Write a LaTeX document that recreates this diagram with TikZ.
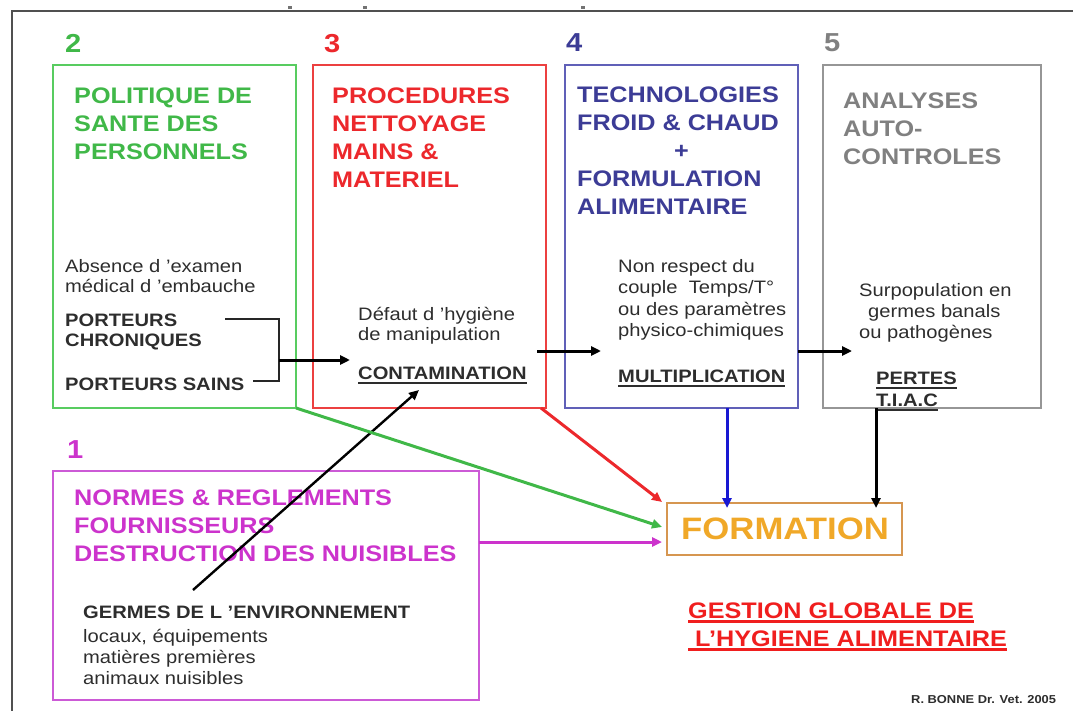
\documentclass[tikz,border=0pt]{standalone}
\usepackage{fontspec}
\setmainfont{Liberation Sans}[FakeStretch=1.12]
\usetikzlibrary{arrows.meta}

% palette
\definecolor{framegray}{RGB}{80,80,80}
\definecolor{grntxt}{RGB}{64,184,72}
\definecolor{grnline}{RGB}{88,204,96}
\definecolor{redtxt}{RGB}{236,40,44}
\definecolor{redline}{RGB}{236,64,64}
\definecolor{blutxt}{RGB}{60,60,150}
\definecolor{bluline}{RGB}{96,96,184}
\definecolor{bluarrow}{RGB}{24,24,210}
\definecolor{grytxt}{RGB}{128,128,128}
\definecolor{gryline}{RGB}{150,150,150}
\definecolor{magtxt}{RGB}{204,51,204}
\definecolor{magline}{RGB}{204,90,214}
\definecolor{orgtxt}{RGB}{240,168,40}
\definecolor{orgline}{RGB}{214,150,80}
\definecolor{inkgray}{RGB}{45,45,45}
\definecolor{gesred}{RGB}{240,30,30}

% underline with adjustable thickness and drop
\newsavebox\ulbox
\newcommand{\ulined}[3]{\sbox\ulbox{#3}\rlap{\rule[-#2]{\wd\ulbox}{#1}}\usebox\ulbox}

\newcommand{\titlefont}{\bfseries\fontsize{22.5}{28}\selectfont}
\newcommand{\numfont}{\bfseries\fontsize{26}{30}\selectfont}
\newcommand{\smallfont}{\fontsize{18}{20}\selectfont}
\newcommand{\smallbold}{\bfseries\fontsize{18}{20}\selectfont}

\tikzset{
  frame/.style={draw=framegray, line width=2pt},
  box/.style={draw=#1, line width=2.3pt, inner sep=0pt, outer sep=0pt, anchor=north west},
  ttl/.style={anchor=north west, inner sep=0pt, align=left, font=\titlefont, text=#1},
  num/.style={anchor=north west, inner sep=0pt, font=\numfont, text=#1},
  small/.style={anchor=north west, inner sep=0pt, align=left, font=\smallfont, text=inkgray},
  smallb/.style={anchor=north west, inner sep=0pt, align=left, font=\smallbold, text=inkgray},
  bracket/.style={draw=black!85, line width=1.5pt},
  arr/.style={draw=#1, line width=3pt, -{Triangle[length=10pt,width=9pt]}}
}

\begin{document}
\begin{tikzpicture}[x=1pt,y=-1pt]
\useasboundingbox (0,0) rectangle (1073,711);

% page frame and small marks on its top edge
\draw[frame] (12,711) -- (12,11) -- (1073,11);
\fill[framegray!80] (288,6) rectangle (292,9);
\fill[framegray!80] (363,6) rectangle (367,9);
\fill[framegray!80] (581,6) rectangle (585,9);

% five boxes
\node[box=grnline, minimum width=243pt, minimum height=343pt] (polbox) at (53,65) {};
\node[box=redline, minimum width=233pt, minimum height=343pt] (procbox) at (313,65) {};
\node[box=bluline, minimum width=233pt, minimum height=343pt] (techbox) at (565,65) {};
\node[box=gryline, minimum width=218pt, minimum height=343pt] (anabox) at (823,65) {};
\node[box=magline, minimum width=426pt, minimum height=229pt] (normbox) at (53,471) {};
\node[box=orgline, minimum width=235pt, minimum height=52pt] (formbox) at (667,503) {};

% numbers
\node[num=grntxt] (n2) at (65,34) {2};
\node[num=redtxt] (n3) at (324,34) {3};
\node[num=blutxt] (n4) at (566,33) {4};
\node[num=grytxt] (n5) at (824,33) {5};
\node[num=magtxt] (n1) at (67,440) {1};

% box titles
\node[ttl=grntxt] (t2) at (74,88) {POLITIQUE DE\\SANTE DES\\PERSONNELS};
\node[ttl=redtxt] (t3) at (332,88) {PROCEDURES\\NETTOYAGE\\MAINS \&\\MATERIEL};
\node[ttl=blutxt] (t4) at (577,87) {TECHNOLOGIES\\FROID \& CHAUD\\\hspace*{97pt}+\\FORMULATION\\ALIMENTAIRE};
\node[ttl=grytxt] (t5) at (843,93) {ANALYSES\\AUTO-\\CONTROLES};
\node[ttl=magtxt] (t1) at (74,490) {NORMES \& REGLEMENTS\\FOURNISSEURS\\DESTRUCTION DES NUISIBLES};

% personnel box
\node[small] (absence) at (65,259) {Absence d 'examen\\médical d 'embauche};
\node[smallb] (chron) at (65,314) {PORTEURS\\CHRONIQUES};
\node[smallb] (sains) at (65,378) {PORTEURS SAINS};

% procedures box
\node[small] (defaut) at (358,307) {Défaut d 'hygiène\\de manipulation};
\node[smallb] (contam) at (358,367) {\ulined{1.5pt}{4pt}{CONTAMINATION}};

% technologies box
\node[small, font=\fontsize{18}{21.5}\selectfont] (nonresp) at (618,259)
  {Non respect du\\couple\ \ Temps/T°\\ou des paramètres\\physico-chimiques};
\node[smallb] (multi) at (618,370) {\ulined{1.5pt}{4pt}{MULTIPLICATION}};

% analyses box
\node[small, font=\fontsize{18}{21}\selectfont] (surpop) at (859,283)
  {Surpopulation en\\\hspace*{9pt}germes banals\\ou pathogènes};
\node[smallb, font=\bfseries\fontsize{18}{22}\selectfont] (pertes) at (876,372)
  {\ulined{1.5pt}{4pt}{PERTES}\\\ulined{1.5pt}{4pt}{T.I.A.C}};

% standards box
\node[smallb] (germes) at (83,606) {GERMES DE L 'ENVIRONNEMENT};
\node[small, font=\fontsize{18}{21}\selectfont] (locaux) at (83,629)
  {locaux, équipements\\matières premières\\animaux nuisibles};

% training
\node[anchor=north west, inner sep=0pt, font=\bfseries\fontsize{31}{36}\selectfont, text=orgtxt]
  (formtxt) at (681,518) {FORMATION};
\node[anchor=north west, inner sep=0pt, align=left, font=\bfseries\fontsize{22.5}{28}\selectfont, text=gesred]
  (gestion) at (688,603)
  {\ulined{2.5pt}{4pt}{GESTION GLOBALE DE}\\\ulined{2.5pt}{4pt}{\ L'HYGIENE ALIMENTAIRE}};

\node[anchor=west, inner sep=0pt, font=\bfseries\fontsize{11.5}{13}\selectfont, text=inkgray]
  (credit) at (911,700) {R. BONNE Dr. Vet. 2005};

% connector points
\coordinate (brtop) at (225,319);
\coordinate (brc1) at (279,319);
\coordinate (brc2) at (279,381);
\coordinate (brbot) at (253,381);
\coordinate (brjoin) at (279,360);
\coordinate (hygin) at (350,360);
\coordinate (contout) at (537,351);
\coordinate (multin) at (601,351);
\coordinate (surpin) at (852,351);
\coordinate (bluedrop) at (727,408);
\coordinate (tiacdrop) at (876,408);
\coordinate (formin1) at (662,502);
\coordinate (formin2) at (662,527);
\coordinate (formin3) at (662,542);
\coordinate (germtail) at (193,590);
\coordinate (contamhit) at (419,390);

% carriers bracket and flow arrows
\draw[bracket] (brtop) -- (brc1) -- (brc2) -- (brbot);
\draw[arr=black] (brjoin) -- (hygin);
\draw[arr=black] (contout) -- (multin);
\draw[arr=black] (techbox.east |- contout) -- (surpin);
\draw[arr=black, line width=2.4pt] (germtail) -- (contamhit);

% arrows into training
\draw[arr=bluarrow] (bluedrop) -- ([yshift=-5pt]bluedrop |- formbox.north);
\draw[arr=black] (tiacdrop) -- ([yshift=-5pt]tiacdrop |- formbox.north);
\draw[arr=redtxt] ([xshift=-5pt]procbox.south east) -- (formin1);
\draw[arr=grntxt] (polbox.south east) -- (formin2);
\draw[arr=magtxt] (normbox.east |- formin3) -- (formin3);
\end{tikzpicture}
\end{document}
